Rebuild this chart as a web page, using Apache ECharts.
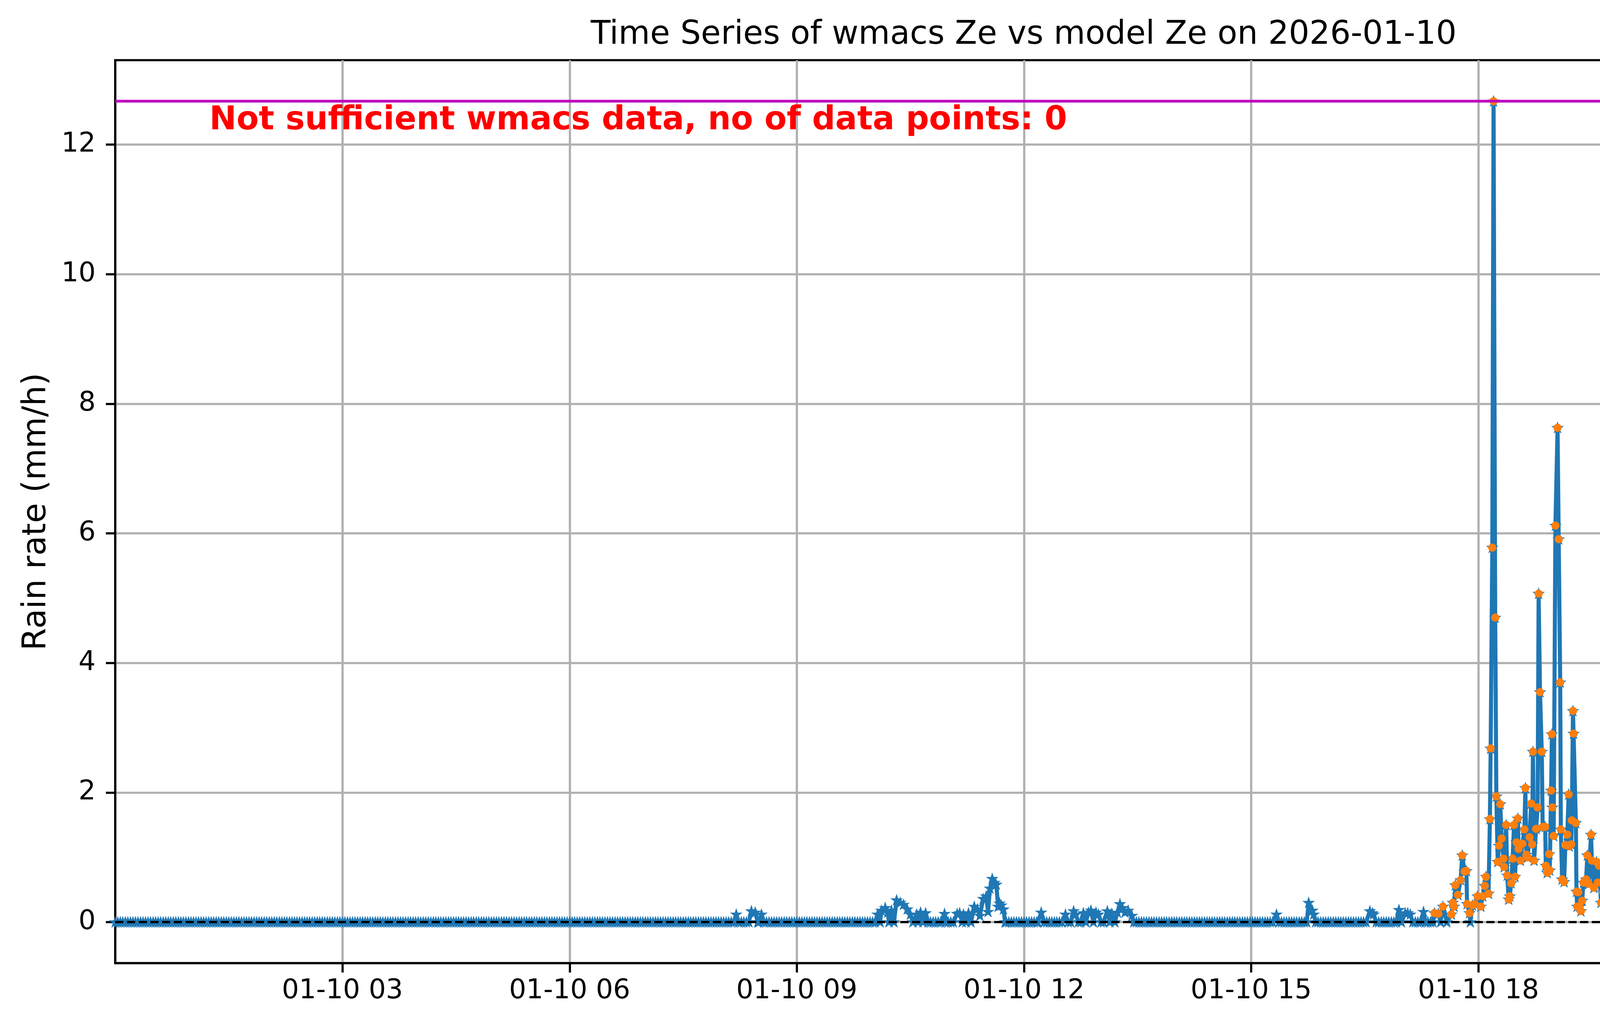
<!DOCTYPE html>
<html>
<head>
<meta charset="utf-8">
<script src="https://cdn.jsdelivr.net/npm/echarts@6/dist/echarts.min.js"></script>
<style>
html,body{margin:0;padding:0;background:#ffffff;overflow:hidden;}
#chart{width:5241px;height:2631px;}
</style>
</head>
<body>
<div id="chart"></div>
<script>
// ---------------- DATA (time = minutes after 2026-01-10 00:00, rain rate in mm/h) ----------------
const chartTitle = 'Time Series of wmacs Ze vs model Ze on 2026-01-10';
const warningText = 'Not sufficient wmacs data, no of data points: 0';

// quiet part of the day (before filtering only)
const quietPeriod = [
[0,0],[2,0],[4,0],[6,0],[8,0],[10,0],[12,0],[14,0],[16,0],[18,0],[20,0],[22,0],[24,0],[26,0],[28,0],[30,0],[32,0],[34,0],[36,0],[38,0],
[40,0],[42,0],[44,0],[46,0],[48,0],[50,0],[52,0],[54,0],[56,0],[58,0],[60,0],[62,0],[64,0],[66,0],[68,0],[70,0],[72,0],[74,0],[76,0],[78,0],
[80,0],[82,0],[84,0],[86,0],[88,0],[90,0],[92,0],[94,0],[96,0],[98,0],[100,0],[102,0],[104,0],[106,0],[108,0],[110,0],[112,0],[114,0],[116,0],[118,0],
[120,0],[122,0],[124,0],[126,0],[128,0],[130,0],[132,0],[134,0],[136,0],[138,0],[140,0],[142,0],[144,0],[146,0],[148,0],[150,0],[152,0],[154,0],[156,0],[158,0],
[160,0],[162,0],[164,0],[166,0],[168,0],[170,0],[172,0],[174,0],[176,0],[178,0],[180,0],[182,0],[184,0],[186,0],[188,0],[190,0],[192,0],[194,0],[196,0],[198,0],
[200,0],[202,0],[204,0],[206,0],[208,0],[210,0],[212,0],[214,0],[216,0],[218,0],[220,0],[222,0],[224,0],[226,0],[228,0],[230,0],[232,0],[234,0],[236,0],[238,0],
[240,0],[242,0],[244,0],[246,0],[248,0],[250,0],[252,0],[254,0],[256,0],[258,0],[260,0],[262,0],[264,0],[266,0],[268,0],[270,0],[272,0],[274,0],[276,0],[278,0],
[280,0],[282,0],[284,0],[286,0],[288,0],[290,0],[292,0],[294,0],[296,0],[298,0],[300,0],[302,0],[304,0],[306,0],[308,0],[310,0],[312,0],[314,0],[316,0],[318,0],
[320,0],[322,0],[324,0],[326,0],[328,0],[330,0],[332,0],[334,0],[336,0],[338,0],[340,0],[342,0],[344,0],[346,0],[348,0],[350,0],[352,0],[354,0],[356,0],[358,0],
[360,0],[362,0],[364,0],[366,0],[368,0],[370,0],[372,0],[374,0],[376,0],[378,0],[380,0],[382,0],[384,0],[386,0],[388,0],[390,0],[392,0],[394,0],[396,0],[398,0],
[400,0],[402,0],[404,0],[406,0],[408,0],[410,0],[412,0],[414,0],[416,0],[418,0],[420,0],[422,0],[424,0],[426,0],[428,0],[430,0],[432,0],[434,0],[436,0],[438,0],
[440,0],[442,0],[444,0],[446,0],[448,0],[450,0],[452,0],[454,0],[456,0],[458,0],[460,0],[462,0],[464,0],[466,0],[468,0],[470,0],[472,0],[474,0],[476,0],[478,0],
[480,0],[482,0],[484,0],[486,0],[488,0],[490,0],
[492,0.12],[494,0],[496,0],[498,0],[500,0],[502,0],[504,0.17],[507,0.15],[509,0],[510,0],[512,0.12],[514,0],[516,0],
[518,0],[520,0],[522,0],[524,0],[526,0],[528,0],[530,0],[532,0],[534,0],[536,0],[538,0],[540,0],[542,0],[544,0],[546,0],[548,0],[550,0],[552,0],[554,0],[556,0],
[558,0],[560,0],[562,0],[564,0],[566,0],[568,0],[570,0],[572,0],[574,0],[576,0],[578,0],[580,0],[582,0],[584,0],[586,0],[588,0],[590,0],[592,0],[594,0],[596,0],
[598,0],[600,0],[602,0],
[604,0.12],[606,0],[607,0.18],[610,0.22],[612,0.15],[613,0],[615,0.18],[617,0],[619,0.34],[622,0.30],[624.5,0.27],
[627.5,0.20],[630,0.12],[632,0],[635,0.12],[636,0],[638,0.15],[640,0],[642,0.14],[644,0],[646,0],[648,0],[650,0],[652,0],[654,0],
[657,0.13],[658,0],[660,0],[662,0],[664,0],[667,0.13],[669,0.14],[671,0],[672,0.12],[674,0],[676,0.14],[678,0],[680.6,0.24],
[683,0.20],[685,0.10],[687.7,0.36],[690,0.40],[691.5,0.16],[693,0.52],[694.8,0.67],[696.6,0.61],[698,0.58],
[699.5,0.24],[700.7,0.29],[702,0.26],[703.7,0.20],[705,0],
[706,0],[708,0],[710,0],[712,0],[714,0],[716,0],[718,0],[720,0],[722,0],[724,0],[726,0],[728,0],[730,0],[731,0],[733.6,0.15],[736,0],[738,0],
[740,0],[742,0],[744,0],[746,0],[748,0],[750,0],
[752.8,0.12],[755,0],[757,0],[759.3,0.17],[761,0.12],[763,0],[765,0],[767,0.14],[769,0],[771,0.15],[773,0.18],[775,0],[777,0.15],
[779,0.12],[781,0],[783,0],[786,0.17],[788,0],[789.5,0.13],[792,0],[794,0.15],[796,0.28],[798,0.22],[800,0.15],
[802.5,0.18],[805.5,0.10],[807,0],[809,0],
[811,0],[813,0],[815,0],[817,0],[819,0],[821,0],[823,0],[825,0],[827,0],[829,0],[831,0],[833,0],[835,0],[837,0],[839,0],[841,0],[843,0],[845,0],[847,0],[849,0],
[851,0],[853,0],[855,0],[857,0],[859,0],[861,0],[863,0],[865,0],[867,0],[869,0],[871,0],[873,0],[875,0],[877,0],[879,0],[881,0],[883,0],[885,0],[887,0],[889,0],
[891,0],[893,0],[895,0],[897,0],[899,0],[901,0],[903,0],[905,0],[907,0],[909,0],[911,0],[913,0],[915,0],[917,0],
[920,0.12],[922,0],[924,0],[926,0],[928,0],[930,0],[932,0],[934,0],[936,0],[938,0],[940,0],[942,0],[944,0],
[945.5,0.30],[948.5,0.18],[949.5,0.12],[951,0],[953,0],
[955,0],[957,0],[959,0],[961,0],[963,0],[965,0],[967,0],[969,0],[971,0],[973,0],[975,0],[977,0],[979,0],[981,0],[983,0],[985,0],[987,0],[989,0],[991,0],
[994,0.17],[996,0.14],[997,0.12],[999,0],[1001,0],[1003,0],[1005,0],[1007,0],[1009,0],[1011,0],[1013,0],[1015,0],
[1017,0.19],[1019,0],[1022,0.14],[1024,0.14],[1026,0.12],[1028,0],[1030,0],[1032,0],[1034,0],[1036.5,0.16],[1038,0],[1040,0],[1042,0],[1044,0]
];

// rainy part of the day: [minute, rain rate, kept after filtering (1) or not (0)]
const rainyPeriod = [
[1045.2,0.14,1],[1048.3,0.13,1],[1050,0,0],[1051.9,0.24,1],[1055,0,0],[1058.6,0.12,1],[1059.7,0.30,1],[1060.7,0.24,1],
[1061.7,0.57,1],[1063.8,0.42,1],[1065.9,0.65,1],[1067.2,1.03,1],[1069,0.78,1],[1070.5,0.79,1],[1071,0.28,1],
[1073,0.14,1],[1073.6,0,0],[1075.2,0.26,1],[1077,0.28,1],[1079.3,0.40,1],[1081.9,0.24,1],[1083.4,0.40,1],
[1085,0.56,1],[1086,0.70,1],[1088,0.44,1],[1089.1,1.59,1],[1089.7,2.68,1],[1091,5.78,1],[1092,12.67,1],
[1093.3,4.70,1],[1094.2,1.94,1],[1095.3,0.93,1],[1096.3,1.18,1],[1097.3,1.82,1],[1098.4,1.29,1],[1099.9,0.98,1],
[1100.4,0.85,1],[1102,1.50,1],[1102.8,0.72,1],[1104,0.35,1],[1104.9,0.40,1],[1105.9,0.60,1],[1107.1,0.98,1],
[1108.2,1.50,1],[1109,0.70,1],[1110.2,1.23,1],[1111.3,1.60,1],[1111.8,1.13,1],[1113.3,0.95,1],[1114.9,1.21,1],
[1116.4,1.43,1],[1117.2,2.07,1],[1118,1.04,1],[1119,1.00,1],[1120.5,1.31,1],[1121.8,1.83,1],[1122.6,1.20,1],
[1123.2,2.63,1],[1124.1,0.95,1],[1125.7,1.44,1],[1126.9,1.77,1],[1127.7,5.07,1],[1128.8,3.55,1],[1130.2,2.63,1],
[1130.9,1.47,1],[1132.9,1.47,1],[1133.4,0.87,1],[1134.5,0.76,1],[1136,1.05,1],[1136.5,0.80,1],[1137.6,2.03,1],
[1138.2,2.90,1],[1138.6,1.77,1],[1139.6,1.33,1],[1141,6.12,1],[1142.7,7.63,1],[1143.6,5.91,1],[1144.8,3.70,1],
[1145.3,1.43,1],[1146.3,0.66,1],[1147.9,0.62,1],[1148.9,1.19,1],[1150.4,1.35,1],[1151.5,1.97,1],[1152,1.17,1],
[1153.5,1.20,1],[1154,1.57,1],[1154.9,3.26,1],[1155.4,2.91,1],[1157.2,1.53,1],[1157.7,0.47,1],[1158.2,0.24,1],
[1159.1,0.46,1],[1160.1,0.24,1],[1161.2,0.17,1],[1162.2,0.33,1],[1163.2,0.61,1],[1165.3,0.66,1],[1166.3,1.03,1],
[1167.3,0.59,1],[1169.2,1.35,1],[1169.9,0.95,1],[1171.5,0.53,1],[1173.5,0.93,1],[1174.6,0.61,1],[1175.6,0.87,1],
[1177.1,0.30,1],[1178.7,0.46,1],[1180.2,0.77,1],[1181.8,0.74,1],[1182.8,0.70,1],[1183.3,0.24,1],[1185.4,0.58,1],
[1186.4,0.42,1],[1188,0.32,1],[1190,0.12,1],[1191.6,0,0],[1193.1,0,0],[1194.2,0.24,1],[1196.2,0,0],[1198,0,0],
[1199.3,0.12,1],[1201.4,0.19,1],[1202.9,0,0],[1204.5,0.14,1],[1205.5,0.34,1],[1207.1,0.58,1],[1208.1,1.14,1],
[1209.6,0.78,1],[1211.7,1.04,1],[1212.2,1.70,1],[1213.2,0.71,1],[1214.3,3.70,1],[1215.2,5.61,1],[1216.3,2.10,1],
[1217.7,0.51,1],[1218.4,0.20,1],[1220.5,0.42,1],[1221.5,0.31,1],[1223.6,0.13,1],[1225.1,0,0],[1227.2,0.74,0],
[1230.3,1.83,0],[1231.8,0,0],[1233.2,0,0],[1234.4,0,0],[1236,0,0],[1237.5,0,0],[1239.5,0,0],[1241.6,0.13,1],[1243.7,0,0],[1245.2,0,0],[1246.8,0.11,1],
[1248.3,0,0],[1249.9,0.23,1],[1251.4,0,0],[1253.5,0.28,1],[1257.6,0.16,1],[1259.1,0.30,1],[1261.4,1.00,1],
[1263.8,1.86,1],[1264.3,0.44,1],[1266,0.42,1],[1267.4,0.40,1],[1269.5,0.26,1],[1271.5,0.36,1],[1273.1,0.11,1],
[1274.5,0.25,1],[1276.2,0.43,1],[1277.7,0.18,1],[1279,0.25,1],[1280.8,0.16,1],[1282.4,0.28,1],[1284,0.22,1],
[1286,0.22,1],[1287.5,0.15,1],[1289,0.12,1],[1291.1,0,0],[1293.2,0.34,1],[1295,0.30,1],[1296.5,0.17,1],
[1297.5,0.45,1],[1298.4,0.91,1],[1300,0.30,1],[1302,0.67,1],[1303,0.73,1],[1304.6,0.48,1],[1305.6,0.71,1],
[1307.2,0.26,1],[1309.7,0.22,1],[1311.8,0.40,1],[1313.5,0.35,1],[1315.4,0.58,1],[1317.5,0.36,1],[1319,0.22,1],
[1320.1,0.89,1],[1321.3,0.75,1],[1322.6,0.82,1],[1324.7,0.44,1],[1325.7,0.76,1],[1326.8,0.30,1],[1328,1.11,1],
[1328.8,0.63,1],[1329.9,0.52,1],[1331.9,0.81,1],[1334,0.44,1],[1335,0.64,1],[1336.3,1.04,1],[1337.6,0.78,1],
[1339.1,0.72,1],[1340.7,0.31,1],[1342.8,0.60,1],[1344.8,0.50,1],[1346.9,0.42,1],[1348.9,0.52,1],[1351,0.56,1],
[1352.6,0.31,1],[1355.1,0.57,1],[1356.2,1.03,1],[1357.7,1.31,1],[1358.9,1.37,1],[1359.8,1.27,1],[1360.9,4.96,1],
[1362.1,3.55,1],[1363.4,2.20,1],[1364.4,2.91,1],[1366,0.93,1],[1366.5,0.77,1],[1367.7,1.29,1],[1368.5,0.45,1],
[1369.6,0.68,1],[1371.1,0.95,1],[1371.6,0.78,1],[1373.7,0.93,1],[1374.7,0.28,1],[1376.8,0.51,1],[1377.8,0.70,1],
[1380.9,0.41,1],[1383,0.29,1],[1384.5,0.70,1],[1386.1,0.44,1],[1387.1,0.55,1],[1388.7,0.27,1],[1390.2,0.14,1],
[1391.2,0,0],[1392.8,0.55,1],[1394.3,0.43,1],[1396.4,0.88,1],[1397.4,0.94,1],[1399,0.27,1],[1399.5,0.50,1],
[1401.5,0.19,1],[1403.6,0,0],[1405.7,0,0],[1407.7,0.20,1],[1409.8,0.16,1],[1411.9,0,0],[1413.5,0.16,1],
[1415,0.18,1],[1418,0,0],[1420.6,0.31,1],[1423.2,0.22,1],[1425,0.17,1],[1426.8,0.14,1],[1428.4,0.30,0],
[1429.5,0,0],[1430.4,0.22,0],[1432,0.30,0],[1433,0.40,0],[1434.3,0.22,0],[1435.6,0.22,0],[1436.5,0,0],
[1437.5,0.22,0],[1438.7,0.22,0]
];

// axes
const xRange = [0, 1440];
const xTickMinutes = [180, 360, 540, 720, 900, 1080, 1260];
const xTickLabels = ['01-10 03', '01-10 06', '01-10 09', '01-10 12', '01-10 15', '01-10 18', '01-10 21'];
const rainRange = [-0.6335, 13.3035];
const rainTicks = [0, 2, 4, 6, 8, 10, 12];
const tempRange = [4.3, 19.7];
const tempTicks = [6, 8, 10, 12, 14, 16, 18];
const tempLineUpper = [19];   // magenta reference line (°C)
const tempLineLower = [5];    // dashed reference line (°C)

// ---------------- CHART ----------------
const beforeData = quietPeriod.concat(rainyPeriod.map(p => [p[0], p[1]]));
const afterData = rainyPeriod.filter(p => p[2] === 1).map(p => [p[0], p[1]]);

const FONT = 'DejaVu Sans';
const STAR = 'path://M0,-100L22.45,-30.9L95.1,-30.9L36.3,11.8L58.8,80.9L0,38.2L-58.8,80.9L-36.3,11.8L-95.1,-30.9L-22.45,-30.9Z';

const chart = echarts.init(document.getElementById('chart'), null, {renderer: 'canvas'});
chart.setOption({
  animation: false,
  backgroundColor: '#ffffff',
  textStyle: {fontFamily: FONT},
  title: {
    text: chartTitle,
    left: 'center',
    top: 44,
    textStyle: {fontFamily: FONT, fontSize: 83, fontWeight: 'normal', color: '#000', lineHeight: 83}
  },
  legend: {
    orient: 'vertical',
    right: 330,
    top: 189,
    itemWidth: 148,
    itemHeight: 21,
    itemGap: 21,
    padding: [18, 31, 26, 24],
    backgroundColor: 'rgba(255,255,255,0.8)',
    borderColor: '#cccccc',
    borderWidth: 5.5,
    borderRadius: 14,
    lineStyle: {width: 10.4},
    textStyle: {fontFamily: FONT, fontSize: 69, color: '#000', lineHeight: 80, padding: [0, 0, 0, 38]},
    data: [
      {name: 'before filtering'},
      {name: 'after filtering', icon: 'circle'}
    ]
  },
  grid: {
    left: 295, right: 293, top: 154, bottom: 166,
    show: true, borderColor: '#000', borderWidth: 5.5, backgroundColor: 'transparent'
  },
  xAxis: [{
    type: 'value',
    min: xRange[0], max: xRange[1],
    axisLine: {show: true, onZero: false, lineStyle: {color: '#000', width: 5.5}},
    axisTick: {show: true, inside: false, length: 24, customValues: xTickMinutes, lineStyle: {color: '#000', width: 5.5}},
    axisLabel: {
      customValues: xTickMinutes,
      fontFamily: FONT, fontSize: 69, color: '#000', margin: 38,
      formatter: v => { const i = xTickMinutes.indexOf(Math.round(v)); return i >= 0 ? xTickLabels[i] : ''; }
    },
    splitLine: {show: true, lineStyle: {color: '#b0b0b0', width: 5.7}}
  }],
  yAxis: [{
    type: 'value', position: 'left',
    min: rainRange[0], max: rainRange[1],
    name: 'Rain rate (mm/h)', nameLocation: 'middle', nameRotate: 90, nameGap: 159,
    nameTextStyle: {fontFamily: FONT, fontSize: 83, color: '#000'},
    axisLine: {show: true, onZero: false, lineStyle: {color: '#000', width: 5.5}},
    axisTick: {show: true, inside: false, length: 24, customValues: rainTicks, lineStyle: {color: '#000', width: 5.5}},
    axisLabel: {customValues: rainTicks, fontFamily: FONT, fontSize: 69, color: '#000', margin: 50},
    splitLine: {show: true, lineStyle: {color: '#b0b0b0', width: 5.7}}
  }, {
    type: 'value', position: 'right',
    min: tempRange[0], max: tempRange[1],
    name: 'Temperature (° C)', nameLocation: 'middle', nameRotate: 90, nameGap: 156,
    nameTextStyle: {fontFamily: FONT, fontSize: 83, color: '#000'},
    axisLine: {show: true, onZero: false, lineStyle: {color: '#bf00bf', width: 6}},
    axisTick: {show: true, inside: false, length: 24, customValues: tempTicks, lineStyle: {color: '#000', width: 5.5}},
    axisLabel: {customValues: tempTicks, fontFamily: FONT, fontSize: 69, color: '#000', margin: 48},
    splitLine: {show: false}
  }],
  graphic: [{
    type: 'text',
    left: 536,
    top: 268,
    z: 20,
    style: {text: warningText, font: 'bold 83px "DejaVu Sans"', fill: '#ff0000'}
  }],
  series: [{
    name: 'before filtering',
    type: 'line',
    xAxisIndex: 0, yAxisIndex: 0,
    data: beforeData,
    showAllSymbol: true,
    symbol: STAR,
    symbolSize: 17,
    symbolKeepAspect: true,
    color: '#1f77b4',
    itemStyle: {color: '#1f77b4', borderColor: '#1f77b4', borderWidth: 5},
    lineStyle: {color: '#1f77b4', width: 10.4},
    sampling: null,
    z: 2
  }, {
    name: 'after filtering',
    type: 'scatter',
    xAxisIndex: 0, yAxisIndex: 0,
    data: afterData,
    symbol: 'circle',
    symbolSize: 21,
    color: '#ff7f0e',
    itemStyle: {color: '#ff7f0e', opacity: 1},
    z: 3
  }, {
    name: 'temp upper',
    type: 'line',
    xAxisIndex: 0, yAxisIndex: 1,
    data: [[xRange[0], tempLineUpper[0]], [xRange[1], tempLineUpper[0]]],
    symbol: 'none',
    lineStyle: {color: '#bf00bf', width: 7},
    silent: true,
    z: 10
  }, {
    name: 'temp lower',
    type: 'line',
    xAxisIndex: 0, yAxisIndex: 1,
    data: [[xRange[0], tempLineLower[0]], [xRange[1], tempLineLower[0]]],
    symbol: 'none',
    lineStyle: {color: '#000', width: 5.7, type: [21, 9]},
    silent: true,
    z: 5
  }]
});
</script>
</body>
</html>
